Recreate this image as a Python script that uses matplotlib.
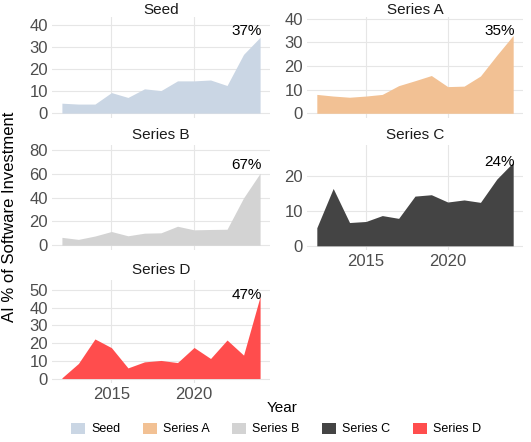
import matplotlib
matplotlib.use("Agg")
import matplotlib.pyplot as plt
from matplotlib.patches import Patch

plt.rcParams['font.family'] = ['Liberation Sans', 'DejaVu Sans']

years = list(range(2012, 2025))

stages = ["Seed", "Series A", "Series B", "Series C", "Series D"]
seed = [4.5, 4.1, 4.1, 9.3, 7.1, 11.0, 10.2, 14.6, 14.6, 15.0, 12.5, 26.6, 34.3]
series_a = [8.0, 7.3, 6.8, 7.3, 8.0, 11.7, 13.8, 16.0, 11.3, 11.5, 15.8, 24.6, 33.0]
series_b = [6.6, 4.9, 7.7, 11.5, 7.9, 10.1, 10.4, 15.9, 12.9, 13.2, 13.4, 39.7, 60.3]
series_c = [5.2, 16.5, 6.7, 7.0, 8.7, 7.9, 14.3, 14.7, 12.6, 13.2, 12.5, 19.2, 24.0]
series_d = [0.4, 8.5, 22.3, 17.4, 6.0, 9.4, 10.2, 9.0, 17.5, 11.3, 21.7, 13.2, 46.2]
end_labels = [37, 35, 67, 24, 47]

colors = ["#cad6e4", "#f2c194", "#d3d3d3", "#444444", "#ff4d4d"]
values = [seed, series_a, series_b, series_c, series_d]

# panel boxes in pixels (left, top, right, bottom) on a 531x442 canvas
W, H = 531, 442
boxes = [(52, 17, 270, 118), (307, 17, 523, 118),
         (52, 145, 270, 250), (307, 145, 523, 250),
         (52, 280, 270, 383)]
ylims = [(-2.2, 43.5), (-2.0, 40.8), (-4.0, 84.0), (-1.2, 29.0), (-2.5, 55.5)]
yticks = [[0, 10, 20, 30, 40], [0, 10, 20, 30, 40], [0, 20, 40, 60, 80],
          [0, 10, 20], [0, 10, 20, 30, 40, 50]]
show_x = [False, False, False, True, True]
title_pad = [2, 2, 4, 4, 4]

fig = plt.figure(figsize=(W / 100, H / 100), dpi=100)

for i, name in enumerate(stages):
    l, t, r, b = boxes[i]
    ax = fig.add_axes([l / W, 1 - b / H, (r - l) / W, (b - t) / H])
    ax.fill_between(years, 0, values[i], color=colors[i], linewidth=0, zorder=2)
    ax.set_xlim(2011.4, 2024.6)
    ax.set_ylim(*ylims[i])
    ax.set_yticks(yticks[i])
    ax.set_xticks([2015, 2020])
    ax.grid(True, color="#e6e6e6", linewidth=0.8, zorder=0)
    for s in ax.spines.values():
        s.set_visible(False)
    ax.tick_params(length=0, labelsize=12, labelcolor="#4d4d4d", pad=3)
    if not show_x[i]:
        ax.set_xticklabels([])
    ax.set_title(name, fontsize=11, color="#1a1a1a", pad=title_pad[i])
    ax.text(years[-1] + 0.1, end_labels[i], f"{end_labels[i]}%", ha="right", va="center",
            fontsize=11, color="black", zorder=3)

fig.text(282 / W, 1 - 408 / H, "Year", ha="center", va="center", fontsize=11)
fig.text(10 / W, 1 - 217 / H, "AI % of Software Investment", rotation=90,
         ha="center", va="center", fontsize=12)

# the reference crops the legend at the bottom edge; keep it whole but tucked low
handles = [Patch(facecolor=c, edgecolor="none") for c in colors]
fig.legend(handles, stages, loc="lower center", ncol=5, frameon=False,
           bbox_to_anchor=(0.52, -0.005), fontsize=9, handlelength=1.1,
           handleheight=1.0, columnspacing=1.8, handletextpad=0.5, borderpad=0.2)

fig.savefig("out.png", dpi=100)
